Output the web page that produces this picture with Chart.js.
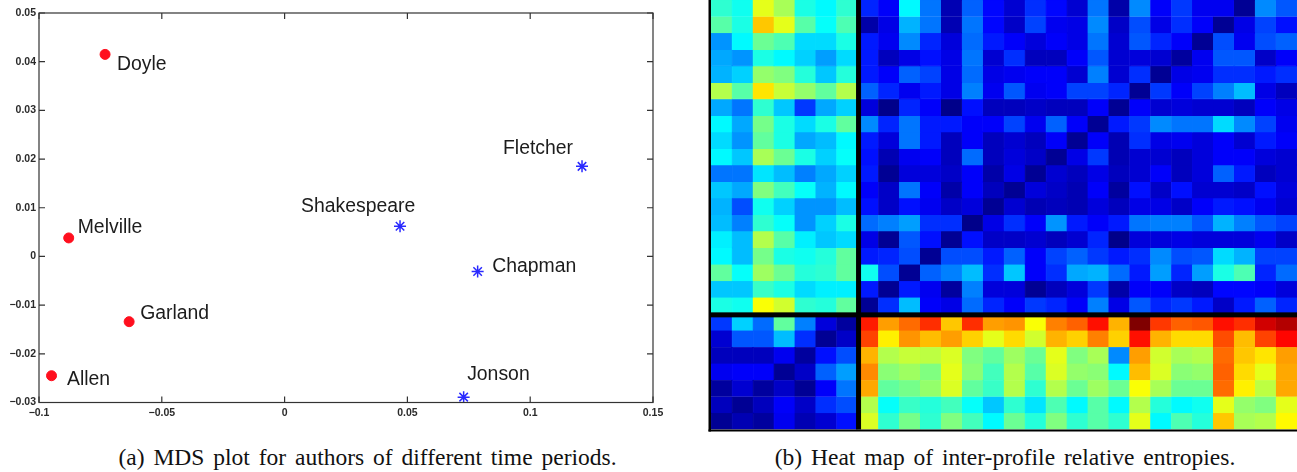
<!DOCTYPE html>
<html>
<head>
<meta charset="utf-8">
<title>MDS plot and heat map</title>
<script src="https://cdn.jsdelivr.net/npm/chart.js@4"></script>
<style>
    body { margin: 0; background: #fff; width: 1297px; height: 472px; overflow: hidden; position: relative; }
    canvas { position: absolute; top: 0; }
    #mds-chart { left: 0; }
    #heat-chart { left: 705px; }
    .caption { position: absolute; top: 444px; transform: translateX(-50%); white-space: nowrap; font: 23.5px "Liberation Serif", serif; word-spacing: 3px; color: #111; }
</style>
</head>
<body>
<canvas id="mds-chart" width="680" height="430"></canvas>
<canvas id="heat-chart" width="592" height="432"></canvas>
<div class="caption" style="left: 367.5px">(a) MDS plot for authors of different time periods.</div>
<div class="caption" style="left: 1005px">(b) Heat map of inter-profile relative entropies.</div>

<script>
// MDS plot data
const oldAuthors = ['Doyle', 'Melville', 'Garland', 'Allen'];
const oldX = [-0.0731, -0.0879, -0.0633, -0.0949];
const oldY = [0.0415, 0.0038, -0.0134, -0.0245];

const earlyAuthors = ['Shakespeare', 'Fletcher', 'Chapman', 'Jonson'];
const earlyX = [0.047, 0.1211, 0.0786, 0.0729];
const earlyY = [0.0062, 0.0185, -0.0031, -0.0289];

const xTicks = [-0.1, -0.05, 0, 0.05, 0.1, 0.15];
const xTickLabels = ['−0.1', '−0.05', '0', '0.05', '0.1', '0.15'];
const yTicks = [-0.03, -0.02, -0.01, 0, 0.01, 0.02, 0.03, 0.04, 0.05];
const yTickLabels = ['−0.03', '−0.02', '−0.01', '0', '0.01', '0.02', '0.03', '0.04', '0.05'];

// Heat map data, one row per profile, values on a 0-100 colour scale
const heatRows = [
    [42, 39, 60, 54, 40, 37, 42, 16, 12, 37, 24, 5, 22, 13, 8, 17, 13, 8, 24, 4, 26, 12, 18, 11, 11, 2, 26, 21],
    [46, 40, 68, 60, 46, 38, 45, 4, 10, 30, 24, 5, 24, 13, 7, 19, 11, 10, 26, 7, 20, 10, 17, 12, 2, 10, 19, 14],
    [27, 37, 48, 45, 34, 34, 40, 15, 11, 26, 16, 9, 23, 15, 12, 9, 12, 10, 24, 8, 21, 16, 12, 2, 20, 11, 20, 22],
    [29, 27, 40, 37, 33, 28, 34, 15, 6, 10, 14, 10, 24, 8, 17, 6, 6, 12, 21, 8, 9, 8, 3, 11, 21, 21, 7, 12],
    [30, 33, 52, 50, 41, 32, 41, 15, 12, 22, 19, 10, 23, 10, 11, 12, 12, 8, 25, 8, 17, 2, 10, 11, 17, 17, 15, 17],
    [55, 46, 65, 57, 52, 47, 55, 22, 16, 11, 15, 10, 25, 11, 21, 11, 12, 19, 19, 16, 2, 18, 12, 19, 25, 31, 10, 6],
    [29, 24, 42, 32, 18, 29, 33, 9, 1, 16, 12, 1, 14, 6, 6, 7, 6, 6, 12, 2, 12, 8, 9, 8, 8, 6, 12, 10],
    [37, 29, 49, 40, 34, 40, 47, 26, 16, 24, 15, 15, 12, 12, 19, 11, 22, 12, 2, 15, 18, 26, 24, 24, 34, 26, 19, 11],
    [34, 27, 47, 40, 29, 31, 37, 15, 9, 24, 15, 6, 12, 6, 8, 6, 12, 2, 12, 5, 17, 10, 11, 9, 12, 8, 15, 12],
    [37, 32, 54, 48, 40, 33, 38, 14, 5, 11, 12, 6, 23, 6, 9, 7, 2, 10, 18, 5, 8, 8, 6, 9, 12, 12, 9, 8],
    [24, 24, 35, 31, 25, 29, 33, 15, 2, 9, 9, 7, 12, 4, 10, 2, 8, 6, 10, 6, 8, 12, 6, 9, 22, 15, 6, 8],
    [32, 29, 50, 44, 38, 30, 37, 12, 7, 24, 12, 4, 12, 6, 2, 9, 7, 5, 12, 3, 14, 7, 14, 8, 8, 7, 14, 9],
    [30, 20, 39, 33, 27, 27, 31, 14, 7, 14, 11, 7, 9, 2, 8, 5, 6, 5, 9, 6, 10, 10, 7, 12, 15, 14, 11, 8],
    [31, 25, 42, 38, 27, 33, 40, 23, 25, 28, 17, 17, 1, 10, 17, 12, 27, 15, 12, 15, 24, 25, 25, 21, 30, 25, 21, 19],
    [36, 31, 55, 46, 36, 32, 34, 10, 2, 21, 14, 2, 14, 7, 7, 8, 6, 8, 16, 1, 9, 9, 10, 9, 9, 9, 11, 7],
    [37, 31, 49, 40, 39, 41, 47, 15, 16, 20, 2, 20, 20, 15, 22, 12, 19, 22, 18, 15, 17, 26, 20, 21, 34, 30, 19, 19],
    [47, 38, 53, 48, 41, 42, 47, 39, 20, 2, 22, 25, 31, 17, 32, 12, 17, 29, 30, 23, 15, 28, 16, 28, 40, 45, 16, 23],
    [32, 32, 43, 40, 34, 36, 36, 15, 2, 15, 11, 3, 25, 9, 9, 2, 6, 9, 18, 4, 12, 12, 7, 6, 13, 13, 12, 9],
    [40, 39, 62, 58, 42, 41, 47, 2, 17, 31, 12, 10, 23, 16, 12, 18, 16, 12, 25, 10, 21, 16, 18, 15, 7, 15, 22, 16],
    [18, 33, 23, 47, 25, 9, 3, 85, 72, 77, 83, 68, 83, 72, 73, 62, 75, 78, 86, 70, 100, 82, 78, 79, 86, 83, 92, 95],
    [8, 21, 21, 31, 17, 2, 7, 81, 64, 73, 69, 72, 67, 60, 66, 58, 70, 67, 75, 67, 86, 70, 66, 66, 80, 69, 81, 87],
    [6, 6, 6, 11, 3, 14, 20, 70, 55, 57, 56, 59, 50, 47, 53, 48, 60, 50, 54, 26, 72, 58, 54, 55, 77, 68, 65, 72],
    [11, 12, 12, 2, 7, 22, 28, 74, 51, 53, 50, 60, 51, 44, 55, 46, 59, 52, 51, 37, 69, 59, 51, 52, 78, 66, 60, 71],
    [3, 8, 3, 7, 2, 12, 24, 71, 47, 49, 52, 59, 47, 43, 55, 42, 55, 48, 53, 48, 62, 54, 48, 48, 77, 64, 56, 71],
    [6, 2, 6, 12, 7, 17, 20, 55, 38, 43, 41, 44, 38, 32, 42, 35, 45, 37, 46, 37, 55, 41, 37, 39, 60, 52, 50, 60],
    [2, 5, 3, 11, 5, 8, 14, 59, 42, 49, 42, 50, 44, 37, 48, 41, 50, 42, 46, 42, 60, 37, 45, 41, 68, 54, 55, 63]
];
const heatColumns = heatRows[0].map((v, i) => i);

// Label offsets from each point, in pixels
const oldLabelOffsets = [[12, 10.7], [9, -10], [11, -8], [15.5, 4.2]];
const earlyLabelOffsets = [[-99, -19.7], [-79, -17.7], [14.5, -4.7], [3.5, -22.3]];

const TICK_FONT = { family: '"Liberation Sans", Arial, sans-serif', size: 10.5, weight: 'bold' };

// matlab jet colormap
function jet(value) {
    const v = value / 100;
    const r = Math.min(1, Math.max(0, Math.min(4 * v - 1.5, 4.5 - 4 * v)));
    const g = Math.min(1, Math.max(0, Math.min(4 * v - 0.5, 3.5 - 4 * v)));
    const b = Math.min(1, Math.max(0, Math.min(4 * v + 0.5, 2.5 - 4 * v)));
    return `rgb(${Math.round(r * 255)}, ${Math.round(g * 255)}, ${Math.round(b * 255)})`;
}

function toPoints(xs, ys) {
    return xs.map((x, i) => ({ x: x, y: ys[i] }));
}

// Box and inward ticks, matlab style
const boxPlugin = {
    id: 'box',
    afterDatasetsDraw(chart) {
        const { ctx, chartArea: a, scales } = chart;
        ctx.save();
        ctx.strokeStyle = '#333';
        ctx.lineWidth = 1.2;
        ctx.strokeRect(a.left, a.top, a.right - a.left, a.bottom - a.top);
        ctx.beginPath();
        xTicks.forEach(v => {
            const px = scales.x.getPixelForValue(v);
            ctx.moveTo(px, a.top);
            ctx.lineTo(px, a.top + 6);
            ctx.moveTo(px, a.bottom);
            ctx.lineTo(px, a.bottom - 6);
        });
        yTicks.forEach(v => {
            const py = scales.y.getPixelForValue(v);
            ctx.moveTo(a.left, py);
            ctx.lineTo(a.left + 6, py);
            ctx.moveTo(a.right, py);
            ctx.lineTo(a.right - 6, py);
        });
        ctx.stroke();
        ctx.restore();
    }
};

const pointLabelPlugin = {
    id: 'pointLabels',
    afterDatasetsDraw(chart) {
        const { ctx } = chart;
        ctx.save();
        ctx.font = '19.4px "Liberation Sans", Arial, sans-serif';
        ctx.fillStyle = '#1c1c1c';
        ctx.textBaseline = 'middle';
        chart.data.datasets.forEach((ds, d) => {
            chart.getDatasetMeta(d).data.forEach((el, i) => {
                ctx.fillText(ds.names[i], el.x + ds.offsets[i][0], el.y + ds.offsets[i][1]);
            });
        });
        ctx.restore();
    }
};

function loadMdsChart() {
    const ctx = document.getElementById('mds-chart').getContext('2d');
    new Chart(ctx, {
        type: 'scatter',
        data: {
            datasets: [{
                data: toPoints(oldX, oldY),
                names: oldAuthors,
                offsets: oldLabelOffsets,
                pointStyle: 'circle',
                pointRadius: 5,
                backgroundColor: '#ff0f1e',
                borderColor: '#ff0f1e'
            }, {
                data: toPoints(earlyX, earlyY),
                names: earlyAuthors,
                offsets: earlyLabelOffsets,
                pointStyle: 'star',
                pointRadius: 6,
                pointBorderWidth: 1.5,
                backgroundColor: '#2a2aff',
                borderColor: '#2a2aff'
            }]
        },
        options: {
            responsive: false,
            animation: false,
            devicePixelRatio: 1,
            layout: { padding: { top: 13, right: 27, left: 0, bottom: 0 } },
            plugins: { legend: { display: false }, tooltip: { enabled: false } },
            scales: {
                x: {
                    type: 'linear',
                    min: -0.1,
                    max: 0.15,
                    afterBuildTicks: scale => { scale.ticks = xTicks.map(v => ({ value: v })); },
                    afterFit: scale => { scale.height = 27.5; },
                    grid: { display: false, drawTicks: false },
                    border: { display: false },
                    ticks: {
                        autoSkip: false,
                        maxRotation: 0,
                        padding: 4,
                        color: '#2a2a2a',
                        font: TICK_FONT,
                        callback: (v, i) => xTickLabels[i]
                    }
                },
                y: {
                    type: 'linear',
                    min: -0.03,
                    max: 0.05,
                    afterBuildTicks: scale => { scale.ticks = yTicks.map(v => ({ value: v })); },
                    afterFit: scale => { scale.width = 39; },
                    grid: { display: false, drawTicks: false },
                    border: { display: false },
                    ticks: {
                        autoSkip: false,
                        padding: 3,
                        color: '#2a2a2a',
                        font: TICK_FONT,
                        callback: (v, i) => yTickLabels[i]
                    }
                }
            }
        },
        plugins: [boxPlugin, pointLabelPlugin]
    });
}

// Black separators and frame of the heat map
const DIVIDER_COLUMN = 7.05;
const DIVIDER_ROW = 19.06;

const heatFramePlugin = {
    id: 'heatFrame',
    afterDatasetsDraw(chart) {
        const { ctx, chartArea: a, scales } = chart;
        const colWidth = scales.x.width / heatColumns.length;
        const dividerX = scales.x.left + DIVIDER_COLUMN * colWidth;
        const dividerY = scales.y.getPixelForValue(DIVIDER_ROW);
        ctx.save();
        ctx.fillStyle = '#000';
        ctx.fillRect(dividerX - 2.5, a.top, 5, a.bottom - a.top);
        ctx.fillRect(a.left, dividerY - 2.5, a.right - a.left, 5);
        ctx.fillRect(a.left - 2.5, a.top, 2.5, a.bottom - a.top + 2);
        ctx.fillRect(a.left - 2.5, a.bottom, a.right - a.left + 2.5, 2);
        ctx.restore();
    }
};

function loadHeatChart() {
    const ctx = document.getElementById('heat-chart').getContext('2d');
    new Chart(ctx, {
        type: 'bar',
        data: {
            labels: heatColumns,
            datasets: heatRows.map((row, r) => ({
                data: row.map(() => [r, r + 1]),
                backgroundColor: row.map(jet),
                borderColor: row.map(jet),
                borderWidth: 0.6,
                borderSkipped: false,
                grouped: false,
                barPercentage: 1,
                categoryPercentage: 1
            }))
        },
        options: {
            responsive: false,
            animation: false,
            devicePixelRatio: 1,
            layout: { padding: { left: 6, right: 0, top: 0, bottom: 2.5 } },
            plugins: { legend: { display: false }, tooltip: { enabled: false } },
            scales: {
                x: { display: false, offset: true },
                y: { display: false, min: 0, max: heatRows.length, reverse: true }
            }
        },
        plugins: [heatFramePlugin]
    });
}

loadMdsChart();
loadHeatChart();
</script>
</body>
</html>
